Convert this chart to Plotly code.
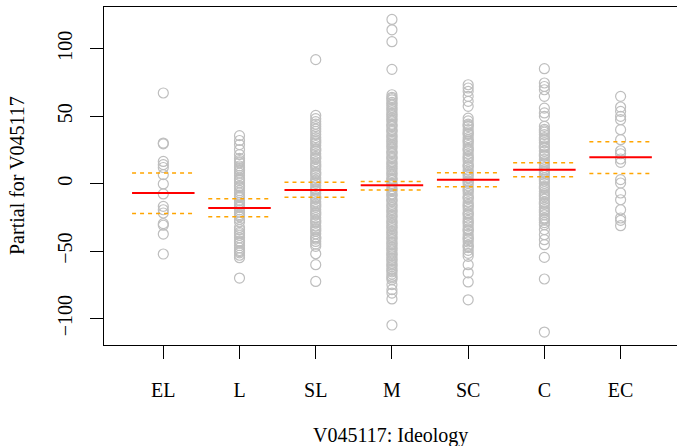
import plotly.graph_objects as go

# Ideology categories (x axis)
categories = ["EL", "L", "SL", "M", "SC", "C", "EC"]

# Partial residuals for each ideology level
res_EL = [67.2, 30.1, 29.5, 16.5, 14.1, 12.0, 6.7, -0.2, -7.6, -16.8, -19.3, -21.7,
          -29.6, -30.8, -37.3, -52.1]
res_L = [35.6, 32.0, 29.0, 25.3, 21.6, 18.7, 17.2, 15.4, 13.1, 11.8, 9.6, 7.9, 6.2, 4.1,
         2.3, 0.6, -1.4, -3.1, -5.2, -6.8, -8.5, -10.3, -12.4, -14.0, -15.7, -17.6, -19.4,
         -21.1, -22.9, -24.6, -26.5, -28.3, -32.4, -34.1, -36.0, -38.2, -40.1, -42.3,
         -44.0, -45.8, -47.6, -49.5, -51.2, -53.0, -54.8, -69.9,
         16.1, 10.5, 3.2, -2.2, -9.4, -16.6, -23.8, -37.1, -43.1, -50.3]
res_SL = [91.9, 50.6, 48.2, 46.0, 44.1, 42.3, 40.5, 38.7, 36.4, 34.2, 32.5, 30.1, 28.3,
          26.0, 24.2, 22.1, 20.3, 18.4, 16.2, 14.5, 12.3, 10.6, 8.4, 6.5, 4.3, 2.6, 0.4,
          -1.5, -3.6, -5.4, -7.3, -9.5, -11.2, -13.4, -15.1, -17.3, -19.2, -21.0, -23.1,
          -25.2, -27.0, -29.1, -31.3, -33.0, -35.2, -37.1, -39.4, -41.0, -42.8, -44.7,
          -46.4, -51.9, -60.0, -72.4,
          31.2, 25.1, 19.3, 13.4, 7.5, 1.5, -4.5, -10.4, -16.2, -22.0, -28.1, -34.1, -40.2]
res_M = [121.7, 114.0, 105.2, 84.7, 65.9, 64.0, 62.1, 60.3, 58.2, 56.4, 54.1, 52.3, 50.2,
         48.5, 46.3, 44.1, 42.4, 40.2, 38.5, 36.3, 34.1, 32.4, 30.2, 28.5, 26.3, 24.1,
         22.4, 20.2, 18.4, 16.3, 14.1, 12.5, 10.2, 8.4, 6.3, 4.2, 2.5, 0.3, -1.4, -3.6,
         -5.3, -7.5, -9.2, -11.4, -13.1, -15.3, -17.5, -19.2, -21.4, -23.1, -25.3, -27.2,
         -29.4, -31.1, -33.3, -35.2, -37.4, -39.1, -41.3, -43.2, -45.4, -47.1, -49.3,
         -51.2, -53.4, -55.1, -57.3, -59.2, -61.4, -63.1, -65.3, -67.0, -68.7, -71.1,
         -74.8, -78.5, -81.0, -85.4, -104.7,
         63.1, 59.2, 55.3, 51.1, 47.4, 43.2, 39.3, 35.2, 31.3, 27.4, 23.2, 19.3, 15.2,
         11.4, 7.3, 3.4, -0.5, -4.4, -8.3, -12.2, -16.4, -20.3, -24.2, -28.3, -32.2,
         -36.3, -40.2, -44.3, -48.2, -52.3, -56.2, -60.3, -64.2, -69.8]
res_SC = [73.3, 70.9, 68.4, 64.7, 61.0, 57.3, 48.6, 46.5, 44.2, 42.4, 40.1, 38.3, 36.5,
          34.2, 32.4, 30.1, 28.3, 26.2, 24.4, 22.1, 20.3, 18.2, 16.4, 14.1, 12.3, 10.2,
          8.5, 6.2, 4.4, 2.1, 0.3, -1.6, -3.4, -5.5, -7.3, -9.4, -11.2, -13.5, -15.3,
          -17.4, -19.2, -21.5, -23.3, -25.4, -27.2, -29.5, -31.3, -33.4, -35.2, -37.5,
          -39.3, -41.4, -43.2, -45.5, -47.3, -49.4, -51.6, -53.8, -60.0, -66.0, -72.8,
          -86.0,
          43.3, 37.2, 31.4, 25.3, 19.2, 13.3, 7.4, 1.2, -4.6, -10.3, -16.4, -22.3,
          -28.4, -34.3, -40.5, -46.4]
res_C = [85.2, 74.6, 72.0, 69.6, 64.7, 56.0, 52.4, 49.9, 42.5, 40.3, 38.1, 36.4, 34.2,
         32.0, 30.3, 28.1, 26.4, 24.2, 22.0, 20.3, 18.1, 16.4, 14.2, 12.0, 10.3, 8.1, 6.4,
         4.2, 2.0, 0.3, -1.9, -3.6, -5.8, -7.5, -9.7, -11.4, -13.6, -15.3, -17.5, -19.2,
         -21.4, -23.1, -25.3, -27.0, -28.8, -30.4, -34.0, -37.8, -41.5, -45.2, -54.6,
         -70.6, -109.9,
         39.2, 33.1, 27.3, 21.1, 15.3, 9.2, 3.1, -2.8, -8.6, -14.5, -20.3, -26.1]
res_EC = [64.7, 56.8, 53.6, 49.9, 47.4, 40.0, 32.6, 24.4, 22.2, 18.3, 15.8, 3.0, 0.5,
          -6.9, -11.9, -19.3, -25.4, -27.2, -31.1]

# Fitted term and its upper / lower bands per level
term_fit = [-6.9, -18.0, -4.7, -1.2, 3.0, 10.4, 19.5]
term_upper = [7.9, -11.1, 1.0, 1.7, 8.1, 15.6, 31.1]
term_lower = [-22.0, -24.4, -10.1, -4.7, -2.2, 5.2, 7.6]

# Y axis ticks
y_ticks = [-100, -50, 0, 50, 100]

residuals = [res_EL, res_L, res_SL, res_M, res_SC, res_C, res_EC]

FONT = "Liberation Serif"
GREY = "#BEBEBE"
HALF = 0.41

fig = go.Figure()

for i, vals in enumerate(residuals):
    pos = i + 1
    fig.add_trace(go.Scatter(
        x=[pos] * len(vals), y=vals, mode="markers",
        marker=dict(symbol="circle-open", size=10, color=GREY, line=dict(width=1.2, color=GREY)),
        showlegend=False, hoverinfo="y"))

for i in range(len(categories)):
    pos = i + 1
    for band in (term_upper[i], term_lower[i]):
        fig.add_trace(go.Scatter(
            x=[pos - HALF, pos + HALF], y=[band, band], mode="lines",
            line=dict(color="#FFA500", width=1.5, dash="4px,4px"),
            showlegend=False, hoverinfo="skip"))
    fig.add_trace(go.Scatter(
        x=[pos - HALF, pos + HALF], y=[term_fit[i], term_fit[i]], mode="lines",
        line=dict(color="#FF0000", width=2),
        showlegend=False, hoverinfo="skip"))

fig.update_layout(
    width=677, height=446,
    margin=dict(l=104, r=0, t=7, b=101),
    paper_bgcolor="white", plot_bgcolor="white",
    font=dict(family=FONT, size=20, color="black"),
    xaxis=dict(
        range=[0.222, 7.74], tickmode="array",
        tickvals=list(range(1, len(categories) + 1)), ticktext=categories,
        showgrid=False, zeroline=False,
        showline=True, mirror=True, linecolor="black", linewidth=1,
        ticks="outside", ticklen=13, tickwidth=1, tickcolor="black",
        ticklabelstandoff=14,
        tickfont=dict(family=FONT, size=20)),
    yaxis=dict(
        range=[-119.5, 130.9], tickmode="array", tickvals=y_ticks,
        showgrid=False, zeroline=False,
        showline=True, mirror=False, linecolor="black", linewidth=1,
        ticks="outside", ticklen=13, tickwidth=1, tickcolor="black",
        tickangle=-90, ticklabelstandoff=10,
        tickfont=dict(family=FONT, size=20)),
    annotations=[
        dict(text="V045117: Ideology", xref="paper", yref="paper", x=0.5, y=0,
             yshift=-90, xanchor="center", yanchor="middle", showarrow=False,
             font=dict(family=FONT, size=20)),
        dict(text="Partial for V045117", xref="paper", yref="paper", x=0, y=0.5,
             xshift=-87, xanchor="center", yanchor="middle", textangle=-90,
             showarrow=False, font=dict(family=FONT, size=20)),
    ],
)

fig.write_html("out.html")
